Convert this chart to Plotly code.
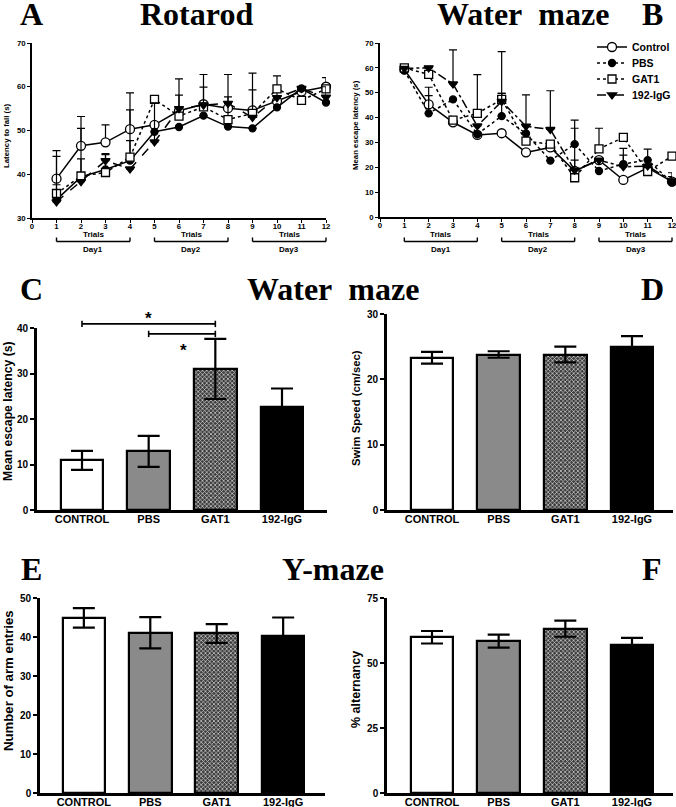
import plotly.graph_objects as go

W, H = 676, 807

# ---------------- data ----------------
trials = list(range(1, 13))
series_names = ["Control", "PBS", "GAT1", "192-IgG"]

# Panel A: Rotarod latency to fall (s)
rot_control = [39.0, 46.5, 47.3, 50.3, 51.3, 54.5, 56.0, 55.1, 54.6, 56.7, 58.9, 60.0]
rot_pbs = [34.2, 39.4, 41.1, 43.1, 49.7, 50.8, 53.4, 50.9, 50.5, 55.3, 59.6, 56.4]
rot_gat1 = [35.6, 39.6, 40.4, 43.9, 57.1, 53.3, 55.4, 52.5, 53.9, 59.5, 56.9, 59.5]
rot_igg = [33.7, 38.3, 43.1, 41.2, 47.4, 55.0, 55.8, 56.2, 53.0, 57.5, 59.6, 57.6]
rot_control_err = [6.4, 6.7, 4.0, 8.3, 0.0, 7.3, 6.8, 7.7, 8.5, 5.8, 0.0, 2.1]
rot_pbs_err = [0.0, 4.1, 3.6, 4.6, 0.0, 0.0, 0.0, 0.0, 0.0, 0.0, 0.0, 0.0]
rot_gat1_err = [2.0, 10.9, 0.0, 10.8, 0.0, 4.8, 4.5, 5.2, 5.4, 0.0, 0.0, 0.0]
rot_igg_err = [10.4, 0.0, 1.4, 0.0, 8.9, 0.0, 0.0, 0.0, 0.0, 0.0, 0.0, 2.4]

# Panel B: Water maze mean escape latency (s)
wm_control = [59.4, 45.3, 38.1, 33.0, 33.7, 26.0, 28.0, 18.5, 22.9, 14.9, 19.8, 14.2]
wm_pbs = [58.9, 41.7, 47.3, 33.3, 40.6, 33.6, 22.7, 29.3, 18.5, 21.3, 22.9, 13.9]
wm_gat1 = [60.0, 57.4, 39.0, 41.7, 47.3, 30.5, 29.3, 15.8, 27.4, 32.0, 18.3, 24.5]
wm_igg = [59.8, 60.0, 53.5, 36.6, 46.5, 36.5, 35.2, 18.8, 22.9, 20.2, 20.5, 14.5]
wm_control_err = [0.0, 6.9, 0.0, 0.0, 0.0, 0.0, 0.0, 4.4, 0.0, 0.0, 0.0, 0.0]
wm_pbs_err = [0.0, 7.1, 0.0, 0.0, 9.1, 0.0, 0.0, 9.7, 0.0, 6.3, 4.4, 3.9]
wm_gat1_err = [0.0, 0.0, 0.0, 15.6, 19.2, 0.0, 0.0, 0.0, 8.3, 0.0, 0.0, 0.0]
wm_igg_err = [0.0, 0.0, 13.7, 0.0, 3.2, 12.6, 15.6, 16.9, 0.0, 4.7, 0.0, 1.8]

# Bar panels
bar_labels = ["CONTROL", "PBS", "GAT1", "192-IgG"]
wm_latency = [10.9, 12.9, 31.0, 22.6]
wm_latency_err = [2.1, 3.4, 6.6, 4.1]
swim_speed = [23.3, 23.8, 23.8, 24.9]
swim_speed_err = [0.9, 0.5, 1.2, 1.7]
arm_entries = [44.9, 41.1, 40.9, 40.3]
arm_entries_err = [2.5, 4.0, 2.4, 4.7]
alternancy = [59.9, 58.4, 63.2, 57.0]
alternancy_err = [2.4, 2.5, 3.1, 2.7]

day_labels = ["Day1", "Day2", "Day3"]
day_trials = [(1, 4), (5, 8), (9, 12)]

# ---------------- layout helpers ----------------
SANS = "Liberation Sans"
SERIF = "Liberation Serif"

panels = {
    "A": dict(px=(32, 326, 43, 218), xr=(0, 12), yr=(30, 70), ax=("x", "y")),
    "B": dict(px=(380, 672, 43, 217), xr=(0, 12), yr=(0, 70), ax=("x2", "y2")),
    "C": dict(px=(37, 327, 328, 510), xr=(-0.675, 3.675), yr=(0, 40), ax=("x3", "y3")),
    "D": dict(px=(387, 673, 314, 510), xr=(-0.675, 3.615), yr=(0, 30), ax=("x4", "y4")),
    "E": dict(px=(40, 325, 598, 793), xr=(-0.66, 3.63), yr=(0, 50), ax=("x5", "y5")),
    "F": dict(px=(387, 673, 598, 793), xr=(-0.675, 3.615), yr=(0, 75), ax=("x6", "y6")),
}


def xdom(p):
    l, r, t, b = panels[p]["px"]
    return [l / W, r / W]


def ydom(p):
    l, r, t, b = panels[p]["px"]
    return [1 - b / H, 1 - t / H]


def xpaper(p, v):
    d = xdom(p)
    r0, r1 = panels[p]["xr"]
    return d[0] + (v - r0) / (r1 - r0) * (d[1] - d[0])


def ypaper(p, v):
    d = ydom(p)
    r0, r1 = panels[p]["yr"]
    return d[0] + (v - r0) / (r1 - r0) * (d[1] - d[0])


def pxx(x):
    return x / W


def pxy(y):
    return 1 - y / H


fig = go.Figure()

# ---------------- line panels ----------------
line_styles_A = {
    "Control": dict(dash="solid", symbol="circle", color="white", size=9),
    "PBS": dict(dash="solid", symbol="circle", color="black", size=7),
    "GAT1": dict(dash="dot", symbol="square", color="white", size=8),
    "192-IgG": dict(dash="dash", symbol="triangle-down", color="black", size=8),
}
line_styles_B = {
    "Control": dict(dash="solid", symbol="circle", color="white", size=9),
    "PBS": dict(dash="dot", symbol="circle", color="black", size=7),
    "GAT1": dict(dash="dot", symbol="square", color="white", size=8),
    "192-IgG": dict(dash="dashdot", symbol="triangle-down", color="black", size=8),
}

rot_data = [(rot_control, rot_control_err), (rot_pbs, rot_pbs_err),
            (rot_gat1, rot_gat1_err), (rot_igg, rot_igg_err)]
wm_data = [(wm_control, wm_control_err), (wm_pbs, wm_pbs_err),
           (wm_gat1, wm_gat1_err), (wm_igg, wm_igg_err)]
legend_ids = ["legend", "legend2", "legend3", "legend4"]


def add_lines(data, styles, xa, ya, legend):
    for i, (name, (vals, errs)) in enumerate(zip(series_names, data)):
        st = styles[name]
        fig.add_trace(go.Scatter(
            x=trials, y=vals, name=name, mode="lines+markers",
            xaxis=xa, yaxis=ya, showlegend=legend, legend=legend_ids[i],
            cliponaxis=False,
            line=dict(color="black", width=1.5, dash=st["dash"]),
            marker=dict(symbol=st["symbol"], size=st["size"], color=st["color"],
                        line=dict(color="black", width=1.3)),
            error_y=dict(type="data", symmetric=False, array=errs,
                         arrayminus=[0] * len(errs), color="black",
                         thickness=1.2, width=4),
        ))


add_lines(rot_data, line_styles_A, "x", "y", False)
add_lines(wm_data, line_styles_B, "x2", "y2", True)

# ---------------- bar panels ----------------
bar_colors = ["white", "#8a8a8a", "#3c3c3c", "black"]
bar_pattern = dict(shape=["", "", "x", ""], fgcolor="#000000", fillmode="overlay",
                   fgopacity=0.8, size=3, solidity=0.4)

bar_sets = [("C", wm_latency, wm_latency_err), ("D", swim_speed, swim_speed_err),
            ("E", arm_entries, arm_entries_err), ("F", alternancy, alternancy_err)]
for p, vals, errs in bar_sets:
    xa, ya = panels[p]["ax"]
    fig.add_trace(go.Bar(
        x=list(range(len(bar_labels))), y=vals, width=0.64, xaxis=xa, yaxis=ya,
        showlegend=False,
        marker=dict(color=bar_colors, line=dict(color="black", width=2.2),
                    pattern=bar_pattern),
        error_y=dict(type="data", array=errs, symmetric=True, color="black",
                     thickness=2.2, width=11),
    ))

# ---------------- axes ----------------
layout = dict(template="none", width=W, height=H, margin=dict(l=0, r=0, t=0, b=0, pad=0),
              paper_bgcolor="white", plot_bgcolor="rgba(0,0,0,0)", bargap=0,
              font=dict(family=SANS, color="black"))

line_tick_font = dict(family=SANS, size=7.8, color="black", weight="bold")
bar_ytick_font = dict(family=SANS, size=10, color="black", weight="bold")
bar_xtick_font = dict(family=SANS, size=11, color="black", weight="bold")

for p in ["A", "B"]:
    xa, ya = panels[p]["ax"]
    kx = "xaxis" if xa == "x" else "xaxis" + xa[1:]
    ky = "yaxis" if ya == "y" else "yaxis" + ya[1:]
    y0, y1 = panels[p]["yr"]
    layout[kx] = dict(domain=xdom(p), range=list(panels[p]["xr"]), anchor=ya,
                      automargin=False, ticklabelstandoff=-3,
                      ticklabeloverflow="allow",
                      showline=True, linewidth=1.6, linecolor="black",
                      ticks="outside", ticklen=3, tickwidth=1.4, tickcolor="black",
                      tickvals=list(range(0, 13)), showgrid=False, zeroline=False,
                      tickfont=line_tick_font, fixedrange=True)
    layout[ky] = dict(domain=ydom(p), range=[y0, y1], anchor=xa, automargin=False,
                      ticklabeloverflow="allow",
                      showline=True, linewidth=1.6, linecolor="black",
                      ticks="outside", ticklen=3, tickwidth=1.4, tickcolor="black",
                      tickvals=list(range(y0, y1 + 1, 10)), showgrid=False,
                      zeroline=False, tickfont=line_tick_font, fixedrange=True)

bar_yticks = {"C": [0, 10, 20, 30, 40], "D": [0, 10, 20, 30],
              "E": [0, 10, 20, 30, 40, 50], "F": [0, 25, 50, 75]}
for p in ["C", "D", "E", "F"]:
    xa, ya = panels[p]["ax"]
    kx = "xaxis" + xa[1:]
    ky = "yaxis" + ya[1:]
    layout[kx] = dict(domain=xdom(p), range=list(panels[p]["xr"]), anchor=ya,
                      automargin=False, ticklabelstandoff=-3,
                      ticklabeloverflow="allow",
                      showline=True, linewidth=2.6, linecolor="black", ticks="",
                      tickvals=list(range(len(bar_labels))), ticktext=bar_labels,
                      showgrid=False, zeroline=False, tickfont=bar_xtick_font,
                      fixedrange=True)
    layout[ky] = dict(domain=ydom(p), range=list(panels[p]["yr"]), anchor=xa,
                      automargin=False, ticklabeloverflow="allow",
                      showline=True, linewidth=2.6, linecolor="black",
                      ticks="outside", ticklen=4, tickwidth=2, tickcolor="black",
                      tickvals=bar_yticks[p], showgrid=False, zeroline=False,
                      tickfont=bar_ytick_font, fixedrange=True)

legend_font = dict(family=SANS, size=10.5, color="black", weight="bold")
legend_y = [47, 63, 79, 95]
for lid, ly in zip(legend_ids, legend_y):
    layout[lid] = dict(x=592 / W, y=1 - ly / H, xanchor="left", yanchor="middle",
                       bgcolor="rgba(0,0,0,0)", itemwidth=30, borderwidth=0,
                       font=legend_font)
fig.update_layout(**layout)

# ---------------- annotations ----------------
ann = []


def text(x, y, s, size, family=SANS, angle=0, xanchor="center"):
    ann.append(dict(x=x, y=y, xref="paper", yref="paper", text=s, showarrow=False,
                    xanchor=xanchor, yanchor="middle", textangle=angle,
                    font=dict(family=family, size=size, color="black", weight="bold")))


for letter, cx, cy in [("A", 31, 14), ("B", 652, 14), ("C", 31, 289), ("D", 652, 289),
                       ("E", 31, 569), ("F", 652, 569)]:
    text(pxx(cx), pxy(cy), letter, 32, SERIF)
for s, cx, cy in [("Rotarod", 196, 14), ("Water\u00a0\u00a0maze", 523, 14),
                  ("Water\u00a0\u00a0maze", 333, 289), ("Y-maze", 333, 569)]:
    text(pxx(cx), pxy(cy), s, 32, SERIF)

for s, cx, cy, sz in [("Latency to fall (s)", 6, 136, 7.8),
                      ("Mean escape latency (s)", 355, 125, 7.8),
                      ("Mean escape latency (s)", 8, 411, 12.2),
                      ("Swim Speed (cm/sec)", 356, 408, 11.3),
                      ("Number of arm entries", 8, 681, 13.2),
                      ("% alternancy", 356, 690, 12.5)]:
    text(pxx(cx), pxy(cy), s, sz, angle=-90)

shapes = []
for p in ["A", "B"]:
    for lab, (t0, t1) in zip(day_labels, day_trials):
        x0, x1 = xpaper(p, t0), xpaper(p, t1)
        yb, yt = pxy(241.5), pxy(237.5)
        shapes.append(dict(type="line", xref="paper", yref="paper", x0=x0, x1=x1,
                           y0=yb, y1=yb, line=dict(color="black", width=1.4)))
        for xx in (x0, x1):
            shapes.append(dict(type="line", xref="paper", yref="paper", x0=xx, x1=xx,
                               y0=yb, y1=yt, line=dict(color="black", width=1.4)))
        text((x0 + x1) / 2, pxy(234), "Trials", 8)
        text((x0 + x1) / 2, pxy(249.5), lab, 8)

sig = [(0, 2, 40.9), (1, 2, 38.7)]
for a, b, v in sig:
    xa_, xb_ = xpaper("C", a), xpaper("C", b)
    yv = ypaper("C", v)
    shapes.append(dict(type="line", xref="paper", yref="paper", x0=xa_, x1=xb_,
                       y0=yv, y1=yv, line=dict(color="black", width=1.6)))
    for xx in (xa_, xb_):
        shapes.append(dict(type="line", xref="paper", yref="paper", x0=xx, x1=xx,
                           y0=ypaper("C", v - 0.7), y1=ypaper("C", v + 0.7),
                           line=dict(color="black", width=1.6)))
text(xpaper("C", 1.0), ypaper("C", 42.0), "*", 17)
text(xpaper("C", 1.52), ypaper("C", 35.0), "*", 17)

fig.update_layout(annotations=ann, shapes=shapes)
fig.write_html(
    "out.html",
    config={"displayModeBar": False},
    post_script="document.body.style.margin='0';document.body.style.overflow='hidden';",
)
